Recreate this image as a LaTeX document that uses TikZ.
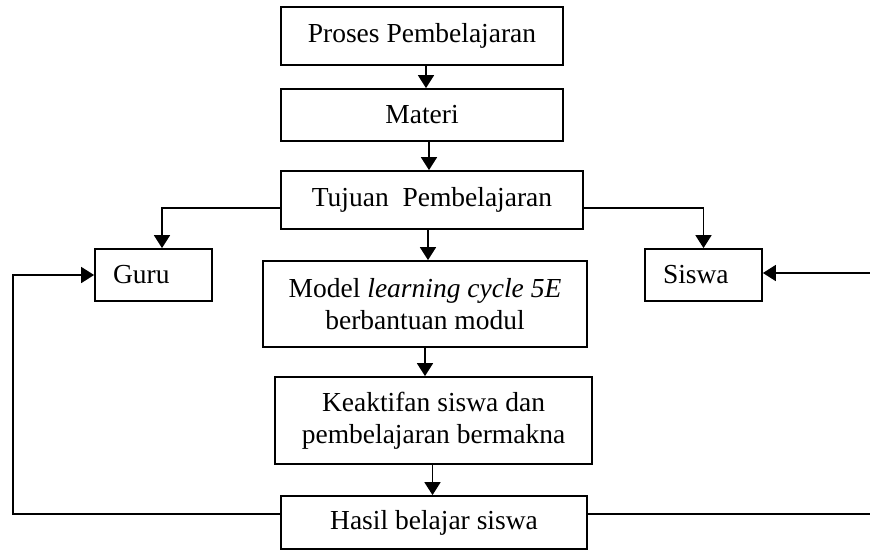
\documentclass[tikz,border=0pt]{standalone}
\usepackage{fontspec}
\setmainfont{Liberation Serif}
\usetikzlibrary{arrows.meta}
\begin{document}
\begin{tikzpicture}[x=1pt,y=-1pt,
  box/.style={draw, line width=1.8pt, align=center, inner sep=0pt,
    font=\fontsize{27.5}{31.6}\selectfont},
  sbox/.style={box, align=left, inner xsep=18pt, text width=81pt},
  conn/.style={line width=1.8pt},
  arr/.style={conn, -{Triangle[length=13pt,width=16pt]}}]
\useasboundingbox (0,0) rectangle (870,550);
\node[box, minimum width=282pt, minimum height=58pt] (p) at (422,36) {Proses Pembelajaran};
\node[box, minimum width=282pt, minimum height=52pt] (m) at (422,115) {Materi};
\node[box, minimum width=302pt, minimum height=58pt] (t) at (432,200) {Tujuan\ \ Pembelajaran};
\node[sbox, minimum height=52pt] (g) at (153.5,275) {Guru};
\node[sbox, minimum height=52pt] (s) at (703.5,275) {Siswa};
\node[box, minimum width=324pt, minimum height=86pt] (mo) at (425,304) {Model \textit{learning cycle 5E}\\berbantuan modul};
\node[box, minimum width=317pt, minimum height=87pt] (k) at (433.5,420.5) {Keaktifan siswa dan\\pembelajaran bermakna};
\node[box, minimum width=306pt, minimum height=53pt] (h) at (434,522.5) {Hasil belajar siswa};
\coordinate (fbL) at (13,400);
\coordinate (fbR) at (870,273);
\draw[arr] ([xshift=4pt]p.south) -- ([xshift=4pt]m.north);
\draw[arr] ([xshift=7pt]m.south) -- ([xshift=-3pt]t.north |- m.south) -- ([xshift=-3pt]t.north);
\draw[arr] ([xshift=-4pt]t.south) -- ([xshift=-4pt]t.south |- mo.north);
\draw[arr] (mo.south) -- (mo.south |- k.north);
\draw[arr] ([xshift=-1pt]k.south) -- ([xshift=-1pt]k.south |- h.north);
\draw[arr] ([yshift=-8pt]t.west) -| ([xshift=8.5pt]g.north);
\draw[arr] ([yshift=-8pt]t.east) -| (s.north);
\draw[arr] ([yshift=8.5pt]h.west) -| (fbL) |- (g.west);
\draw[conn] ([yshift=8.5pt]h.east) -- ([yshift=8.5pt]h.east -| fbR);
\draw[arr] (fbR) -- (fbR -| s.east);
\end{tikzpicture}
\end{document}
